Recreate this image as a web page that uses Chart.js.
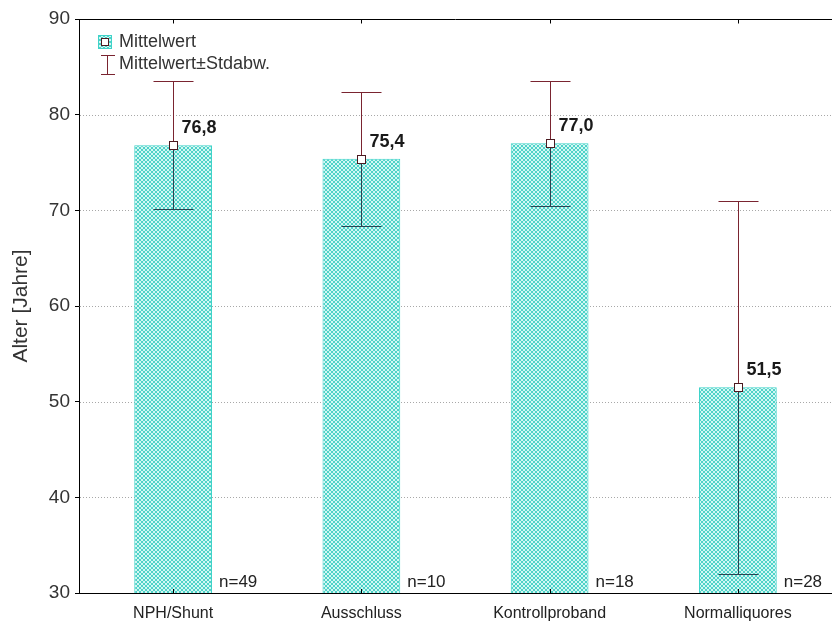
<!DOCTYPE html>
<html>
<head>
<meta charset="utf-8">
<script src="https://cdn.jsdelivr.net/npm/chart.js@4.4.1/dist/chart.umd.min.js"></script>
<style>
  html, body { margin: 0; padding: 0; background: #ffffff; }
  #wrap { width: 832px; height: 625px; }
</style>
</head>
<body>
<div id="wrap"><canvas id="c" width="832" height="625"></canvas></div>
<script>
// Alter je Gruppe: Mittelwert ± Standardabweichung
const categories = ['NPH/Shunt', 'Ausschluss', 'Kontrollproband', 'Normalliquores'];
const means = [76.8, 75.4, 77.0, 51.5];
const sds = [6.7, 7.0, 6.5, 19.5];
const counts = [49, 10, 18, 28];
const yMin = 30;
const yMax = 90;
const yStep = 10;

const FONT = '"Liberation Sans", Arial, sans-serif';
const ERR = '#7a2430';
const ERR_IN = '#2a4350';
const TEAL_EDGE = '#3fd3c9';

// Kreuzschraffur für die Balken
function hatch() {
  const t = document.createElement('canvas');
  t.width = 4; t.height = 4;
  const g = t.getContext('2d');
  g.fillStyle = '#d2f7f3';
  g.fillRect(0, 0, 4, 4);
  g.strokeStyle = '#4ed2c8';
  g.lineWidth = 1;
  g.beginPath();
  g.moveTo(0, 0); g.lineTo(4, 4);
  g.moveTo(0, 4); g.lineTo(4, 0);
  g.stroke();
  return g.createPattern(t, 'repeat');
}

const fmt = v => v.toFixed(1).replace('.', ',');

const decor = {
  id: 'decor',
  beforeDatasetsDraw(chart) {
    const { ctx, chartArea: a, scales } = chart;
    const y = scales.y;
    ctx.save();
    ctx.strokeStyle = '#a8a8a8';
    ctx.lineWidth = 1;
    ctx.setLineDash([1, 2]);
    for (let v = yMin + yStep; v < yMax; v += yStep) {
      const py = Math.round(y.getPixelForValue(v)) + 0.5;
      ctx.beginPath();
      ctx.moveTo(a.left + 1, py);
      ctx.lineTo(a.right, py);
      ctx.stroke();
    }
    ctx.restore();
  },
  afterDatasetsDraw(chart) {
    const { ctx, chartArea: a, scales } = chart;
    const x = scales.x, y = scales.y;
    const meta = chart.getDatasetMeta(0);
    ctx.save();
    // Fehlerbalken, Mittelwertmarker, Beschriftungen
    meta.data.forEach((bar, i) => {
      const cx = Math.round(x.getPixelForValue(i)) + 0.5;
      const yTop = Math.round(y.getPixelForValue(means[i] + sds[i])) + 0.5;
      const yBot = Math.round(y.getPixelForValue(means[i] - sds[i])) + 0.5;
      const yM = Math.round(y.getPixelForValue(means[i])) + 0.5;
      ctx.lineWidth = 1;
      ctx.strokeStyle = ERR;
      ctx.beginPath();
      ctx.moveTo(cx, yTop); ctx.lineTo(cx, yM);
      ctx.moveTo(cx - 20, yTop); ctx.lineTo(cx + 20, yTop);
      ctx.stroke();
      ctx.strokeStyle = ERR_IN;
      ctx.beginPath();
      ctx.moveTo(cx, yM); ctx.lineTo(cx, yBot);
      ctx.moveTo(cx - 20, yBot); ctx.lineTo(cx + 20, yBot);
      ctx.stroke();
      ctx.fillStyle = '#ffffff';
      ctx.fillRect(cx - 4.5, yM - 4.5, 9, 9);
      ctx.strokeStyle = '#4a1a20';
      ctx.strokeRect(cx - 4, yM - 4, 8, 8);

      ctx.fillStyle = '#1a1a1a';
      ctx.font = 'bold 18px ' + FONT;
      ctx.textAlign = 'left';
      ctx.textBaseline = 'middle';
      ctx.fillText(fmt(means[i]), cx + 8, yM - 17);

      ctx.font = '17px ' + FONT;
      ctx.fillStyle = '#222';
      ctx.fillText('n=' + counts[i], bar.x + bar.width / 2 + 7, a.bottom - 11);
    });

    // Rahmen oben mit Teilstrichen
    ctx.strokeStyle = '#000';
    ctx.lineWidth = 1;
    ctx.beginPath();
    const top = Math.round(a.top) + 0.5;
    ctx.moveTo(a.left, top); ctx.lineTo(a.right, top);
    categories.forEach((c, i) => {
      const cx = Math.round(x.getPixelForValue(i)) + 0.5;
      ctx.moveTo(cx, top); ctx.lineTo(cx, top + 4);
      ctx.moveTo(cx, a.bottom); ctx.lineTo(cx, a.bottom - 4);
    });
    ctx.stroke();

    // Legende
    const lx = 105;
    ctx.fillStyle = chart.data.datasets[0].backgroundColor;
    ctx.fillRect(lx - 7, 35, 14, 14);
    ctx.strokeStyle = TEAL_EDGE;
    ctx.strokeRect(lx - 6.5, 35.5, 13, 13);
    ctx.fillStyle = '#fff';
    ctx.fillRect(lx - 4, 38, 8, 8);
    ctx.strokeStyle = '#4a1a20';
    ctx.strokeRect(lx - 3.5, 38.5, 7, 7);

    ctx.strokeStyle = ERR;
    ctx.beginPath();
    ctx.moveTo(lx + 2.5, 55); ctx.lineTo(lx + 2.5, 75);
    ctx.moveTo(lx - 4, 55.5); ctx.lineTo(lx + 10, 55.5);
    ctx.moveTo(lx - 4, 74.5); ctx.lineTo(lx + 10, 74.5);
    ctx.stroke();

    ctx.fillStyle = '#333';
    ctx.font = '18px ' + FONT;
    ctx.textAlign = 'left';
    ctx.textBaseline = 'middle';
    ctx.fillText('Mittelwert', 119, 42);
    ctx.fillText('Mittelwert\u00b1Stdabw.', 119, 64);
    ctx.restore();
  }
};

new Chart(document.getElementById('c'), {
  type: 'bar',
  data: {
    labels: categories,
    datasets: [{
      label: 'Mittelwert',
      data: means,
      backgroundColor: hatch(),
      borderColor: TEAL_EDGE,
      borderWidth: 1,
      borderSkipped: false,
      categoryPercentage: 1,
      barPercentage: 0.413
    }]
  },
  options: {
    responsive: false,
    animation: false,
    devicePixelRatio: 1,
    layout: { padding: { top: 19, right: -4, left: 0, bottom: 0 } },
    plugins: { legend: { display: false }, tooltip: { enabled: false } },
    scales: {
      x: {
        afterFit: s => { s.height = 32; },
        grid: { display: false, drawTicks: false },
        border: { display: true, color: '#000', width: 1 },
        ticks: { color: '#222', font: { family: FONT, size: 16 }, padding: 11, maxRotation: 0 }
      },
      y: {
        min: yMin,
        max: yMax,
        afterFit: s => { s.width = 79; },
        grid: { drawOnChartArea: false, drawTicks: true, tickLength: 4, tickColor: '#000' },
        border: { display: true, color: '#000', width: 1 },
        ticks: { stepSize: yStep, color: '#333', font: { family: FONT, size: 19 }, padding: 5 },
        title: {
          display: true,
          text: 'Alter [Jahre]',
          color: '#333',
          font: { family: FONT, size: 21 },
          padding: { top: 9, bottom: 0 }
        }
      }
    }
  },
  plugins: [decor]
});
</script>
</body>
</html>
